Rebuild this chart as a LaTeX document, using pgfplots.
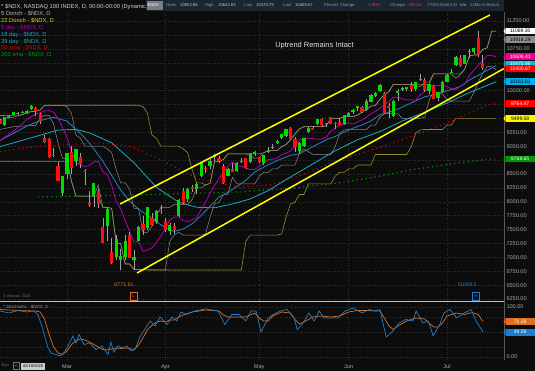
\documentclass[border=0pt]{standalone}
\usepackage{pgfplots}
\pgfplotsset{compat=1.18}
\usepackage{pgfplotstable}
\usepackage{fontspec}
\setmainfont{Liberation Sans}

\definecolor{bg}{HTML}{0C0C0C}
\definecolor{gridc}{HTML}{303030}
\definecolor{cup}{HTML}{00DD00}
\definecolor{cdn}{HTML}{FF1010}
\definecolor{wick}{HTML}{A0A0A0}
\definecolor{donA}{HTML}{8C8C8C}
\definecolor{donB}{HTML}{8E8E2E}
\definecolor{ma5}{HTML}{B400B4}
\definecolor{ma18}{HTML}{2C7FC4}
\definecolor{ma39}{HTML}{1FA9B9}
\definecolor{sma50}{HTML}{E00000}
\definecolor{sma200}{HTML}{00A000}
\definecolor{trend}{HTML}{FFFF00}
\definecolor{tickc}{HTML}{A8A8A8}
\definecolor{stK}{HTML}{1E7FD0}
\definecolor{stD}{HTML}{E0701E}
\definecolor{hdr}{HTML}{1B2631}
\definecolor{hdrlab}{HTML}{8A9BB0}
\definecolor{hdrval}{HTML}{C8C8C8}

\newcommand\fs[1]{\fontsize{#1}{#1}\selectfont}

\pgfplotstableread{
x O H L C
-14 9380 9520 9370 9516
-13 9515 9560 9500 9540
-12 9560 9613 9555 9611
-11 9570 9620 9560 9595
-10 9610 9630 9590 9623
-9 9600 9650 9580 9630
-8 9660 9735 9655 9718
-1 8150 8470 8100 8461
0 8500 8880 8400 8877
2 8740 8950 8650 8948
6 8100 8340 7900 8339
9 7560 7880 7300 7875
11 7000 7400 6950 7335
12 6950 7150 6780 7020
13 7000 7400 6950 7288
15 6950 7140 6772 7006
16 7300 7560 7290 7553
18 7530 7900 7500 7897
20 7640 7850 7600 7831
23 7480 7610 7400 7587
25 7750 8040 7720 8024
27 8050 8240 7990 8231
29 8220 8330 8130 8323
30 8460 8720 8440 8696
32 8640 8760 8580 8727
33 8800 8860 8730 8832
36 8470 8600 8460 8584
38 8560 8710 8530 8703
39 8715 8780 8700 8730
41 8720 8880 8700 8868
42 8860 8920 8820 8890
44 8700 8840 8660 8834
45 8890 8990 8880 8932
46 8960 9030 8950 8986
47 9060 9110 9040 9093
48 9150 9220 9120 9213
49 9180 9310 9170 9301
52 8920 9070 8850 9060
53 9000 9140 8990 9140
54 9250 9350 9230 9331
56 9390 9490 9380 9485
58 9390 9420 9350 9413
62 9400 9560 9380 9556
63 9540 9610 9520 9598
64 9620 9660 9580 9652
65 9680 9720 9640 9713
67 9650 9840 9640 9814
68 9800 9930 9790 9925
69 9900 9980 9880 9953
70 10000 10110 9980 10094
73 9540 9830 9520 9810
74 9960 10020 9820 9992
75 10010 10070 9990 10044
76 10020 10070 10000 10058
78 10030 10150 10000 10152
79 10200 10300 10180 10210
81 10000 10120 9930 10117
83 9870 9980 9810 9977
84 9970 10170 9960 10156
85 10160 10290 10150 10280
86 10320 10390 10310 10341
87 10460 10620 10450 10604
89 10480 10640 10470 10632
90 10690 10740 10580 10707
91 10700 10770 10650 10767
}\upT

\pgfplotstableread{
x O H L C
-15 9470 9480 9400 9402
-7 9690 9710 9550 9627
-6 9580 9590 9400 9447
-5 9150 9200 9050 9079
-4 9130 9140 8780 8800
-3 8830 8970 8800 8820
-2 8640 8720 8370 8373
1 8900 9000 8500 8607
3 8800 8880 8600 8683
4 8560 8580 8300 8530
5 7980 8200 7900 7948
7 8200 8220 7880 7952
8 7550 7700 7250 7263
10 7100 7350 6880 6904
14 7400 7450 6980 6994
17 7600 7750 7400 7494
19 7700 7800 7560 7588
21 7830 7950 7780 7813
22 7650 7700 7450 7486
24 7560 7610 7420 7487
26 8200 8250 7960 7974
28 8260 8300 8180 8237
31 8600 8650 8520 8594
34 8780 8830 8700 8726
35 8650 8680 8320 8340
37 8590 8700 8530 8543
40 8780 8790 8590 8604
43 8780 8800 8690 8719
50 9320 9350 9110 9122
51 9130 9160 8900 8990
55 9330 9370 9290 9297
57 9480 9500 9350 9376
59 9520 9530 9400 9405
60 9420 9440 9300 9413
61 9430 9500 9380 9384
66 9700 9730 9590 9616
71 9950 9980 9580 9588
72 9720 9780 9500 9693
77 10100 10150 9980 10020
80 10190 10220 9970 10007
82 10090 10100 9840 9849
88 10580 10640 10430 10434
92 10940 11069 10600 10640
93 10503 10643 10371 10401
}\dnT

\begin{document}
\begin{tikzpicture}[x=1bp,y=1bp]
\fill[bg] (0bp,0bp) rectangle (535bp,371bp);
\useasboundingbox (0bp,0bp) rectangle (535bp,371bp);

\begin{axis}[
  at={(0bp,70bp)}, anchor=south west, width=504bp, height=289bp, scale only axis,
  xmin=-14.99, xmax=97.76, ymin=6214, ymax=11413,
  axis line style={draw=none}, tick style={draw=none},
  xtick={0,22,43,63,85}, xticklabels={},
  ytick={6250,6500,6750,7000,7250,7500,7750,8000,8250,8500,9000,9250,10000,10750,11250},
  extra y ticks={8750,9500,9750,10250,10500,11000}, extra y tick labels={},
  extra y tick style={grid=major},
  scaled y ticks=false,
  yticklabel pos=right,
  yticklabel style={font=\fs{5.6}, text=tickc, anchor=west, xshift=-1bp,
    /pgf/number format/fixed, /pgf/number format/fixed zerofill,
    /pgf/number format/precision=2, /pgf/number format/1000 sep={},
    /pgf/number format/assume math mode=true},
  grid=major, major grid style={draw=gridc, dash pattern=on 1bp off 1.5bp, line width=0.4bp},
  clip=false,
]
% 22 Donchian (olive)
\addplot[donB, line width=0.6bp] coordinates {
(-15,9550)(-10,9560)(-9,9613)(-8,9620)(-7,9630)(-6,9650)(-5,9735)(16,9735)(17,9710)(18,9590)(19,9200)(20,9140)(21,9000)(25,9000)(26,8950)(27,8880)(28,8580)(29,8340)(30,8340)(31,8300)(32,8330)(33,8720)(34,8720)(35,8760)(36,8860)(43,8860)(44,8880)(45,8920)(47,8920)(48,8990)(49,9030)(50,9110)(51,9220)(52,9310)(53,9350)(57,9350)(58,9370)(59,9490)(60,9500)(61,9500)(62,9530)(64,9530)(65,9560)(66,9610)(67,9660)(68,9720)(69,9730)(70,9840)(71,9930)(72,9980)(73,10110)(81,10110)(82,10300)(88,10300)(89,10390)(90,10620)(91,10640)(92,10640)(93,10740)(94,10770)(95,11069)(96,11069)};
\addplot[donB, line width=0.6bp] coordinates {
(-15,8720)(0,8720)(1,8370)(2,8100)(7,8100)(8,7900)(9,7900)(10,7880)(11,7250)(12,7250)(13,6880)(14,6880)(15,6780)(17,6780)(18,6772)(39,6772)(40,7290)(41,7400)(47,7400)(48,7420)(49,7720)(50,7960)(51,7990)(52,8130)(53,8130)(54,8320)(59,8320)(60,8460)(61,8530)(62,8530)(63,8590)(64,8590)(65,8660)(68,8660)(69,8850)(76,8850)(77,8990)(78,9230)(79,9290)(80,9300)(84,9300)(85,9380)(86,9380)(87,9500)(96,9500)};
% 5 Donchian (gray)
\addplot[donA, line width=0.5bp] coordinates {
(-15,9480)(-12,9520)(-8,9620)(-7,9630)(-6,9650)(-5,9735)(-1,9735)(0,9710)(1,9590)(2,9200)(3,9140)(4,9000)(8,9000)(9,8950)(10,8880)(11,8580)(12,8340)(13,8340)(14,8220)(15,7880)(16,7880)(17,7450)(18,7450)(19,7560)(20,7750)(21,7900)(23,7900)(24,7950)(27,7950)(28,8040)(29,8250)(30,8250)(31,8300)(32,8330)(33,8720)(34,8720)(35,8760)(36,8860)(40,8860)(41,8830)(42,8780)(43,8790)(44,8880)(45,8920)(47,8920)(48,8990)(49,9030)(50,9110)(51,9220)(52,9310)(53,9350)(57,9350)(58,9370)(59,9490)(60,9500)(61,9500)(62,9530)(64,9530)(65,9560)(66,9610)(67,9660)(68,9720)(69,9730)(70,9840)(71,9930)(72,9980)(73,10110)(77,10110)(78,10070)(79,10070)(80,10150)(81,10150)(82,10300)(86,10300)(87,10220)(88,10290)(89,10390)(90,10620)(91,10640)(92,10640)(93,10740)(94,10770)(95,11069)(96,11069)};
\addplot[donA, line width=0.5bp] coordinates {
(-15,9300)(-12,9350)(-8,9370)(-7,9370)(-6,9500)(-5,9555)(-4,9550)(-3,9400)(-2,9050)(-1,8780)(0,8780)(1,8370)(2,8100)(6,8100)(7,8300)(8,7900)(9,7900)(10,7880)(11,7250)(12,7250)(13,6880)(14,6880)(15,6780)(17,6780)(18,6772)(22,6772)(23,7290)(24,7400)(25,7450)(26,7400)(30,7400)(31,7420)(32,7720)(33,7960)(34,7990)(35,8130)(36,8130)(37,8440)(38,8320)(42,8320)(43,8460)(44,8530)(45,8530)(46,8590)(47,8590)(48,8660)(51,8660)(52,8880)(53,8950)(54,8900)(55,8850)(59,8850)(60,8990)(61,9230)(62,9290)(63,9300)(67,9300)(68,9380)(69,9380)(70,9520)(71,9580)(72,9590)(73,9590)(74,9580)(75,9500)(79,9500)(80,9520)(81,9820)(82,9980)(83,9970)(84,9930)(85,9840)(86,9810)(90,9810)(91,9960)(92,10150)(93,10310)(94,10430)(95,10430)(96,10371)};
% 200 sma and 50 sma (dotted)
\addplot[sma200, line width=1.1bp, dash pattern=on 1.1bp off 3.4bp] coordinates {
(-6.5,8086)(14,8120)(38.7,8176)(50,8240)(61,8340)(70,8460)(76.7,8570)(85,8670)(93.5,8760)(95.7,8769)};
\addplot[sma50, line width=1.1bp, dash pattern=on 1.1bp off 3.4bp] coordinates {
(-15,8900)(-6,9000)(7.4,9060)(14,9000)(20.8,8760)(29.8,8400)(38.7,8260)(45.4,8300)(52,8470)(61,8752)(70,8980)(76.7,9166)(85.7,9440)(93.5,9720)(95.7,9764)};
% 39 day (cyan)
\addplot[ma39, line width=0.8bp] coordinates {
(-15,8990)(-8,9150)(-2,9290)(2,9300)(5,9240)(10,9060)(15,8700)(20,8260)(25,7990)(29,7900)(33,7890)(37,7960)(41,8050)(45,8200)(50,8445)(55,8680)(60,8917)(65,9115)(70,9262)(75,9452)(80,9610)(85,9776)(90,9963)(93,10060)(96,10160)};
% 18 day (blue)
\addplot[ma18, line width=0.8bp] coordinates {
(-15,9100)(-12,9230)(-9,9360)(-6,9460)(-3,9520)(0,9450)(2,9300)(4,9150)(6,8950)(8,8728)(10,8474)(12,8212)(14,8012)(16,7866)(18,7758)(20,7639)(22,7533)(24,7465)(26,7509)(28,7603)(30,7751)(32,7919)(34,8086)(36,8171)(38,8273)(40,8386)(42,8535)(44,8621)(46,8702)(48,8773)(50,8834)(52,8862)(54,8948)(56,9033)(58,9114)(60,9173)(62,9250)(64,9324)(66,9381)(68,9454)(70,9565)(72,9610)(74,9666)(76,9739)(78,9815)(80,9886)(82,9925)(84,9970)(86,10019)(88,10074)(90,10188)(92,10277)(94,10360)(96,10450)};
% 5 day (magenta)
\addplot[ma5, line width=0.8bp] coordinates {
(-15,9100)(-11,9330)(-9,9480)(-8,9533)(-7,9577)(-6,9600)(-5,9635)(-4,9639)(-3,9609)(-2,9500)(-1,9334)(0,9155)(1,8904)(2,8707)(3,8666)(4,8628)(5,8653)(6,8715)(7,8729)(8,8543)(9,8490)(10,8290)(11,8006)(12,7875)(13,7667)(14,7466)(15,7279)(16,7284)(17,7108)(18,7129)(19,7172)(20,7267)(21,7389)(22,7508)(23,7673)(24,7725)(25,7723)(26,7661)(27,7641)(28,7679)(29,7712)(30,7861)(31,7991)(32,8158)(33,8292)(34,8416)(35,8515)(36,8634)(37,8715)(38,8644)(39,8642)(40,8605)(41,8579)(42,8580)(43,8633)(44,8690)(45,8759)(46,8762)(47,8783)(48,8849)(49,8872)(50,8913)(51,9012)(52,9105)(53,9143)(54,9144)(55,9137)(56,9123)(57,9129)(58,9164)(59,9263)(60,9326)(61,9380)(62,9395)(63,9418)(64,9398)(65,9434)(66,9471)(67,9521)(68,9581)(69,9627)(70,9679)(71,9744)(72,9804)(73,9880)(74,9875)(75,9851)(76,9828)(77,9835)(78,9825)(79,9919)(80,9985)(81,10053)(82,10097)(83,10089)(84,10101)(85,10067)(86,10032)(87,10021)(88,10076)(89,10121)(90,10272)(91,10363)(92,10458)(93,10544)(94,10629)(95,10636)(96,10606)};
% wicks
\addplot[draw=none, mark=none, forget plot,
  error bars/y dir=plus, error bars/y explicit, error bars/error mark=none,
  error bars/error bar style={draw=wick, line width=0.5bp}]
  table[x=x, y=L, y error plus expr=\thisrow{H}-\thisrow{L}] {\upT};
\addplot[draw=none, mark=none, forget plot,
  error bars/y dir=plus, error bars/y explicit, error bars/error mark=none,
  error bars/error bar style={draw=wick, line width=0.5bp}]
  table[x=x, y=L, y error plus expr=\thisrow{H}-\thisrow{L}] {\dnT};
% bodies
\addplot[draw=none, mark=none, forget plot,
  error bars/y dir=plus, error bars/y explicit, error bars/error mark=none,
  error bars/error bar style={draw=cup, line width=3.2bp}]
  table[x=x, y=O, y error plus expr={max(\thisrow{C}-\thisrow{O},12)}] {\upT};
\addplot[draw=none, mark=none, forget plot,
  error bars/y dir=plus, error bars/y explicit, error bars/error mark=none,
  error bars/error bar style={draw=cdn, line width=3.2bp}]
  table[x=x, y=C, y error plus expr={max(\thisrow{O}-\thisrow{C},12)}] {\dnT};
% trend lines
\addplot[trend, line width=1.5bp] coordinates {(11.86,7959)(94.6,11359)};
\addplot[trend, line width=1.5bp] coordinates {(15.66,6718)(97.76,10396)};
\end{axis}

% stochastic panel
\begin{axis}[
  at={(0bp,11bp)}, anchor=south west, width=504bp, height=58bp, scale only axis,
  xmin=-14.99, xmax=97.76, ymin=-6, ymax=110,
  axis line style={draw=none}, tick style={draw=none},
  xtick={0,22,43,63,85}, xticklabels={Mar,Apr,May,Jun,Jul},
  xticklabel style={font=\fs{5.6}, text=tickc, yshift=-1bp},
  ytick={0,20,50,80,100}, yticklabels={0.00,,,,100.00},
  yticklabel pos=right,
  yticklabel style={font=\fs{5.6}, text=tickc, anchor=west, xshift=-1bp},
  grid=major, major grid style={draw=gridc, dash pattern=on 1bp off 1.5bp, line width=0.4bp},
  clip=false,
]
\addplot[stD, line width=0.7bp] coordinates {
(-15,95)(-11,93)(-7,92)(-6,90)(-5,75)(-4,45)(-3,20)(-2,8)(-1,5)(0,12)(1,25)(2,33)(3,36)(4,34)(5,30)(6,25)(7,20)(8,15)(9,14)(10,16)(11,18)(12,17)(13,18)(14,17)(15,15)(16,24)(17,38)(18,55)(19,63)(20,70)(21,72)(22,70)(23,74)(24,74)(25,80)(26,84)(28,90)(31,94)(34,92)(35,84)(36,80)(38,80)(40,80)(41,84)(42,88)(43,78)(44,72)(45,72)(46,82)(48,90)(50,88)(51,75)(52,66)(53,70)(54,75)(55,80)(57,82)(59,80)(61,82)(63,90)(65,93)(67,93)(69,92)(70,92)(71,78)(72,62)(73,55)(74,62)(76,72)(78,78)(80,76)(81,68)(82,60)(83,60)(84,68)(85,82)(87,88)(89,85)(90,88)(91,88)(92,85)(93,71.3)};
\addplot[stK, line width=0.7bp] coordinates {
(-15,92)(-13,88)(-11,93)(-9,90)(-7.4,92)(-6.5,85)(-5.4,55)(-4.3,20)(-3.6,8)(-2.5,5)(-1.6,2)(-0.5,10)(0.7,30)(1.3,42)(2,28)(2.7,45)(3.8,25)(5.1,28)(6.5,15)(7.8,22)(9.2,5)(9.8,30)(10.5,10)(11.4,22)(12.5,18)(13.4,22)(14.3,12)(15.2,15)(16.3,40)(17.4,55)(18.6,72)(19.7,62)(20.8,80)(22.4,65)(23.5,80)(24.6,72)(25.5,90)(26.6,85)(28.6,92)(30.9,96)(33.8,92)(35.3,65)(36.9,85)(38.5,85)(40,72)(41.2,92)(42.3,92)(43.4,50)(45,78)(46.1,85)(47.7,92)(49.2,95)(50.8,78)(51.5,55)(52.6,65)(54.1,88)(55.3,72)(56.4,92)(57.5,78)(59.1,78)(60.6,78)(62.2,92)(64,98)(66,88)(67.6,95)(68.9,92)(70,95)(71.4,40)(72.7,50)(74.3,68)(75.8,75)(77.4,72)(78.1,92)(79.6,68)(80.8,72)(81.9,43)(83.4,65)(84.3,88)(85.7,95)(87.2,78)(88.8,88)(90.4,95)(91.5,72)(93.1,49.6)};
\end{axis}

% frame lines
\draw[color=white!75!black, line width=0.6bp] (0,69.5) -- (504.5,69.5);
\draw[color=white!35!black, line width=0.5bp] (504.5,11) -- (504.5,359);

% price tags
\newcommand\ptag[4]{\node[fill=#2, text=#3, font=\fs{5}, inner sep=0pt, minimum width=29bp, minimum height=6.6bp, anchor=west] at (505.5,#1) {#4};
  \fill[#2] (503.5,#1) -- (505.6,#1+3.3) -- (505.6,#1-3.3) -- cycle;}
\ptag{339.9}{white}{black}{11069.30}
\ptag{331.4}{white!55!black}{black}{10916.29}
\ptag{314.2}{magenta}{white}{10606.41}
\ptag{306.9}{ma18!60!cyan}{white}{10475.96}
\ptag{302.7}{red}{white}{10400.67}
\ptag{289.6}{cyan}{black}{10163.81}
\ptag{267.4}{red}{white}{9764.47}
\ptag{252.6}{yellow}{black}{9499.58}
\ptag{212.0}{green!60!black}{white}{8768.65}
\ptag{49.6}{stD}{white}{71.26}
\ptag{38.8}{stK}{white}{49.59}

% legend lines
\begin{scope}[every node/.style={anchor=west, font=\fs{5.8}, inner sep=0pt}]
\node[text=white!82!black] at (1,364) {* \$NDX, NASDAQ 100 INDEX, D, 00:00-00:00 (Dynamic)};
\node[text=white!72!black] at (1,357) {5 Donch - \$NDX, D};
\node[text=yellow!85!black] at (1,350) {22 Donch - \$NDX, D};
\node[text=ma5] at (1,343) {5 day - \$NDX, D};
\node[text=ma18!70!cyan] at (1,336) {18 day - \$NDX, D};
\node[text=ma39] at (1,329.5) {39 day - \$NDX, D};
\node[text=sma50] at (1,323) {50 sma - \$NDX, D};
\node[text=sma200] at (1,316) {200 sma - \$NDX, D};
\end{scope}

% header bar
\fill[hdr] (146,360) rectangle (504,371);
\fill[hdr!60!white] (146.5,361) rectangle (162.5,370);
\begin{scope}[every node/.style={anchor=west, font=\fs{4.2}, inner sep=0pt}]
\node[text=white] at (147.5,365.5) {\$NDX};
\node[text=hdrlab] at (166,365.5) {Open};
\node[text=hdrval] at (180,365.5) {10502.85};
\node[text=hdrlab] at (205,365.5) {High};
\node[text=hdrval] at (218,365.5) {10642.83};
\node[text=hdrlab] at (244,365.5) {Low};
\node[text=hdrval] at (256,365.5) {10370.79};
\node[text=hdrlab] at (283,365.5) {Last};
\node[text=hdrval] at (295,365.5) {10400.67};
\node[text=hdrlab] at (324,365.5) {Percent Change};
\node[text=red!80!white] at (367,365.5) {-1.90\%};
\node[text=hdrlab] at (390,365.5) {Change};
\node[text=red!80!white] at (407,365.5) {-281.54};
\node[text=hdrlab] at (427,365.5) {YTD\%Total(4-3)};
\node[text=hdrval] at (460,365.5) {n/a};
\node[text=hdrlab] at (470,365.5) {12Mo \% Return};
\end{scope}

% annotations
\node[text=white!88!black, font=\fs{7.5}, inner sep=0pt] at (314.5,325) {Uptrend Remains Intact};
\node[text=white!45!black, font=\fs{3.8}, anchor=west, inner sep=0pt] at (3,74) {\textcopyright\ eSignal, 2020};
\node[text=stD, font=\fs{5.3}, inner sep=0pt] at (124,86) {6771.91};
\draw[stD, line width=0.5bp] (130.5,71) rectangle (137,79);
\node[text=stD, font=\fs{4.5}, inner sep=0pt] at (133.7,75) {L};
\node[text=stK, font=\fs{5.3}, inner sep=0pt] at (467,86) {11069.3};
\draw[stK, line width=0.5bp] (472.5,71) rectangle (479,79);
\node[text=stK, font=\fs{4.5}, inner sep=0pt] at (475.7,75) {H};
\node[text=white!60!black, font=\fs{4.5}, anchor=west, inner sep=0pt] at (3,64) {* Stochastic - \$NDX, D};
% bottom strip
\node[text=white!45!black, font=\fs{4}, anchor=west, inner sep=0pt] at (1.5,5) {Dyn};
\draw[white!45!black, line width=0.4bp] (13,1.5) rectangle (19.5,8.5);
\node[text=white!45!black, font=\fs{3.8}, inner sep=0pt] at (16.2,5) {R};
\fill[white!80!black] (21,1.5) rectangle (45,8.5);
\node[text=black, font=\fs{4}, inner sep=0pt] at (33,5) {02/18/2020};
\end{tikzpicture}
\end{document}
